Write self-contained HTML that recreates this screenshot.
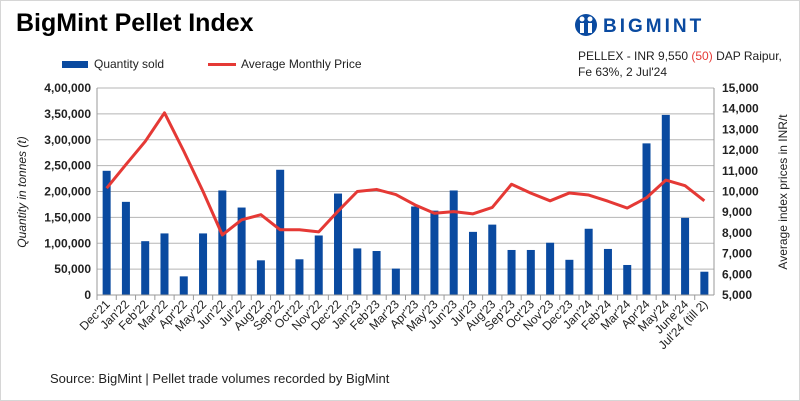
<!DOCTYPE html>
<html><head><meta charset="utf-8"><style>
body{margin:0;background:#fff;}
#wrap{width:800px;height:401px;position:relative;overflow:hidden;font-family:"Liberation Sans",sans-serif;}
</style></head><body>
<div id="wrap">
<svg id="chart" width="800" height="401" xmlns="http://www.w3.org/2000/svg">
<rect x="0.5" y="0.5" width="799" height="400" fill="#fff" stroke="#d6d6d6"/>
<text x="16" y="31" font-size="25" font-weight="bold" fill="#000">BigMint Pellet Index</text>
<g>
<circle cx="586" cy="25" r="11" fill="#0a4aa0"/>
<circle cx="582" cy="19" r="2.5" fill="#fff"/><circle cx="590" cy="19" r="2.5" fill="#fff"/>
<rect x="580" y="23" width="4" height="10" fill="#fff"/><rect x="588" y="23" width="4" height="10" fill="#fff"/>
<text x="603" y="32" font-size="19" font-weight="bold" fill="#0a4aa0" letter-spacing="3">BIGMINT</text>
</g>
<text x="578" y="60" font-size="12" fill="#222">PELLEX - INR 9,550 <tspan fill="#e53935">(50)</tspan> DAP Raipur,</text>
<text x="578" y="76" font-size="12" fill="#222">Fe 63%, 2 Jul'24</text>
<g>
<rect x="62" y="61" width="26" height="7" fill="#0a4aa0"/>
<text x="94" y="68" font-size="12" fill="#222">Quantity sold</text>
<line x1="208" y1="64.5" x2="236" y2="64.5" stroke="#e53935" stroke-width="3"/>
<text x="241" y="68" font-size="12" fill="#222">Average Monthly Price</text>
</g>
<text transform="translate(26,192) rotate(-90)" text-anchor="middle" font-size="12" font-style="italic" fill="#222">Quantity in tonnes (t)</text>
<text transform="translate(787,192) rotate(-90)" text-anchor="middle" font-size="12" fill="#222">Average index prices in INR/t</text>
<text x="50" y="383" font-size="13" fill="#222">Source: BigMint | Pellet trade volumes recorded by BigMint</text>
<g id="grid"></g><g id="bars"></g><g id="axes"></g><g id="line"></g>
</svg>
</div>
<script>
const categories=["Dec'21","Jan'22","Feb'22","Mar'22","Apr'22","May'22","Jun'22","Jul'22","Aug'22","Sep'22","Oct'22","Nov'22","Dec'22","Jan'23","Feb'23","Mar'23","Apr'23","May'23","Jun'23","Jul'23","Aug'23","Sep'23","Oct'23","Nov'23","Dec'23","Jan'24","Feb'24","Mar'24","Apr'24","May'24","June'24","Jul'24 (till 2)"];
const quantity=[240000,180000,104000,119000,36000,119000,202000,169000,67000,242000,69000,115000,196000,90000,85000,51000,171000,163000,202000,122000,136000,87000,87000,101000,68000,128000,89000,58000,293000,348000,149000,45000];
const price=[10160,11300,12420,13800,11950,10000,7900,8630,8880,8150,8150,8050,9050,10000,10100,9850,9350,8950,9030,8920,9230,10350,9920,9550,9930,9830,9530,9200,9700,10550,10280,9550];
const leftTicks=[0,50000,100000,150000,200000,250000,300000,350000,400000];
const rightTicks=[5000,6000,7000,8000,9000,10000,11000,12000,13000,14000,15000];
const X0=97,X1=714,Y0=295,Y1=88;
const bw=(X1-X0)/categories.length;
const xc=i=>X0+bw*(i+0.5);
const yL=v=>Y0-(v/400000)*(Y0-Y1);
const yR=v=>Y0-((v-5000)/10000)*(Y0-Y1);
const NS="http://www.w3.org/2000/svg";
function mk(tag,attrs,parent,txt){const e=document.createElementNS(NS,tag);for(const k in attrs)e.setAttribute(k,attrs[k]);if(txt!==undefined)e.textContent=txt;document.getElementById(parent).appendChild(e);return e;}
const fmt=v=>v===0?"0":v.toLocaleString('en-IN');
leftTicks.forEach(v=>{
 if(v>0){const g=mk('line',{x1:X0,x2:X1,y1:yL(v),y2:yL(v),stroke:'#b5b5b5','stroke-width':1},'grid');
 
 }
 const t=mk('text',{x:X0-6,y:yL(v)+4,'text-anchor':'end','font-size':12,'font-weight':'bold',fill:'#222'},'axes',fmt(v));
 
 
});
rightTicks.forEach(v=>{
 const t=mk('text',{x:X1+8,y:yR(v)+4,'font-size':12,'font-weight':'bold',fill:'#222'},'axes',v.toLocaleString('en-US'));
 
 
});
const ax=mk('line',{x1:X0,x2:X0,y1:Y1,y2:Y0,stroke:'#999'},'axes');


const ax2=mk('line',{x1:X1,x2:X1,y1:Y1,y2:Y0,stroke:'#999'},'axes');


const ax3=mk('line',{x1:X0,x2:X1,y1:Y0,y2:Y0,stroke:'#999'},'axes');


categories.forEach((c,i)=>{
 const tk=mk('line',{x1:X0+bw*i,x2:X0+bw*i,y1:Y0,y2:Y0+5,stroke:'#999'},'axes');
 
 
 const b=mk('rect',{x:xc(i)-4,y:yL(quantity[i]),width:8,height:Y0-yL(quantity[i]),fill:'#0a4aa0'},'bars');
 
 
 const t=mk('text',{transform:`translate(${xc(i)+4},${Y0+10}) rotate(-45)`,'text-anchor':'end','font-size':12,fill:'#222'},'axes',c);
 
 
});
const pl=mk('polyline',{points:price.map((v,i)=>xc(i)+','+yR(v)).join(' '),fill:'none',stroke:'#e53935','stroke-width':3,'stroke-linejoin':'round'},'line');


</script>
</body></html>
